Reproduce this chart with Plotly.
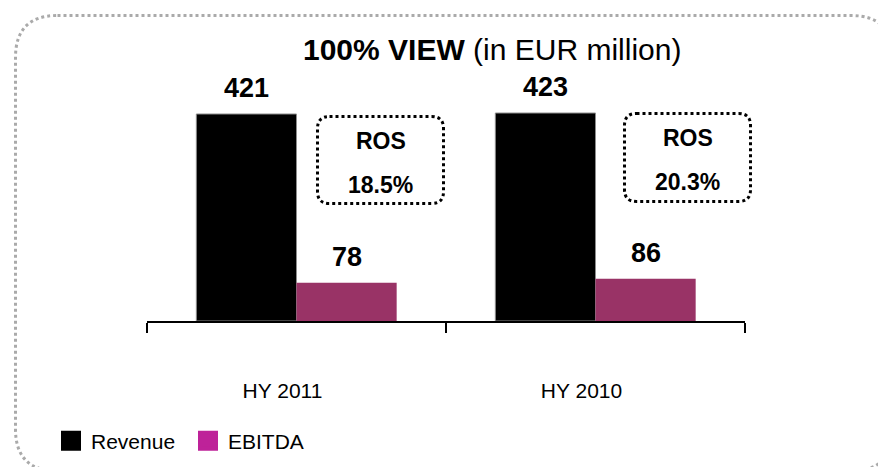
import plotly.graph_objects as go

# Half-year figures, EUR million (100% view)
periods = ["HY 2011", "HY 2010"]
revenue = [421, 423]
ebitda = [78, 86]
series_names = ["Revenue", "EBITDA"]

W, H = 878, 467
L, R, T, B = 147, 133, 85, 146
PW, PH = W - L - R, H - T - B

SANS = "Liberation Sans, Arial, sans-serif"


def fx(x):
    """pixel x -> paper x"""
    return (x - L) / PW


def fy(y):
    """pixel y -> paper y"""
    return (H - B - y) / PH


def rounded_rect(x0, y0, x1, y1, r):
    """Rounded rectangle path in paper coordinates from pixel corners."""
    pts = [
        ("M", x0 + r, y0),
        ("L", x1 - r, y0),
        ("Q", x1, y0, x1, y0 + r),
        ("L", x1, y1 - r),
        ("Q", x1, y1, x1 - r, y1),
        ("L", x0 + r, y1),
        ("Q", x0, y1, x0, y1 - r),
        ("L", x0, y0 + r),
        ("Q", x0, y0, x0 + r, y0),
    ]
    parts = []
    for p in pts:
        cmd, coords = p[0], p[1:]
        xy = []
        for i in range(0, len(coords), 2):
            xy.append(f"{fx(coords[i]):.5f},{fy(coords[i + 1]):.5f}")
        parts.append(cmd + " ".join(xy))
    return " ".join(parts) + " Z"


fig = go.Figure()

fig.add_trace(go.Bar(
    x=periods, y=revenue, name=series_names[0], showlegend=False,
    marker=dict(color="#000000", line=dict(color="#8c8c8c", width=1)),
))
fig.add_trace(go.Bar(
    x=periods, y=ebitda, name=series_names[1], showlegend=False,
    marker=dict(color="#993366", line=dict(width=0)),
))

# legend entries
for name, col in zip(series_names, ["#000000", "#BE2299"]):
    fig.add_trace(go.Scatter(
        x=[None], y=[None], mode="markers", name=name,
        marker=dict(symbol="square", size=16, color=col, line=dict(color=col, width=4)),
    ))

bargap = 0.33
half = (1 - bargap) / 4
annotations = []
# value labels above each bar
for i in range(len(periods)):
    for val, off in ((revenue[i], -half), (ebitda[i], half)):
        annotations.append(dict(
            x=i + off, y=val, xref="x", yref="y", text=f"<b>{val}</b>",
            showarrow=False, yanchor="bottom", yshift=9,
            font=dict(family=SANS, size=27, color="#000000"),
        ))

# ROS boxes
ros_boxes = [(316, 115, 445, 205), (623, 112, 752, 203)]
shapes = []
for i, (x0, y0, x1, y1) in enumerate(ros_boxes):
    ros = ebitda[i] / revenue[i] * 100
    cx = (x0 + x1) / 2
    shapes.append(dict(
        type="path", xref="paper", yref="paper",
        path=rounded_rect(x0 + 1.5, y0 + 1.5, x1 - 1.5, y1 - 1.5, 12),
        line=dict(color="#000000", width=3, dash="dot"),
    ))
    annotations.append(dict(
        x=fx(cx), y=fy(y0 + 26), xref="paper", yref="paper", text="<b>ROS</b>",
        showarrow=False, xanchor="center", yanchor="middle",
        font=dict(family=SANS, size=23, color="#000000"),
    ))
    annotations.append(dict(
        x=fx(cx), y=fy(y0 + 70), xref="paper", yref="paper", text=f"<b>{ros:.1f}%</b>",
        showarrow=False, xanchor="center", yanchor="middle",
        font=dict(family=SANS, size=23, color="#000000"),
    ))

# outer dotted frame
shapes.append(dict(
    type="path", xref="paper", yref="paper",
    path=rounded_rect(15.5, 15.5, 893, 471, 42),
    line=dict(color="#AAAAAA", width=3, dash="dot"),
))

annotations.append(dict(
    x=fx(492), y=fy(50), xref="paper", yref="paper",
    text="<b>100% VIEW</b> (in EUR million)", showarrow=False,
    xanchor="center", yanchor="middle",
    font=dict(family=SANS, size=30, color="#000000"),
))

fig.update_layout(
    width=W, height=H,
    margin=dict(l=L, r=R, t=T, b=B, pad=0, autoexpand=False),
    paper_bgcolor="#ffffff", plot_bgcolor="#ffffff",
    barmode="group", bargap=bargap, bargroupgap=0,
    showlegend=True,
    legend=dict(
        orientation="h", x=fx(51), y=fy(441), xanchor="left", yanchor="middle",
        font=dict(family=SANS, size=21, color="#000000"),
        bgcolor="rgba(0,0,0,0)", entrywidth=92, itemclick=False,
    ),
    xaxis=dict(
        type="category", range=[-0.5, 1.5], showgrid=False, zeroline=False,
        showline=True, linecolor="#000000", linewidth=2,
        ticks="outside", tickson="boundaries", ticklen=10, tickwidth=2, tickcolor="#000000",
        tickfont=dict(family=SANS, size=21, color="#000000"),
        ticklabelstandoff=50, ticklabelshift=-14,
    ),
    yaxis=dict(visible=False, range=[0, 480], showgrid=False, zeroline=False),
    shapes=shapes,
    annotations=annotations,
)

fig.write_html("out.html")
